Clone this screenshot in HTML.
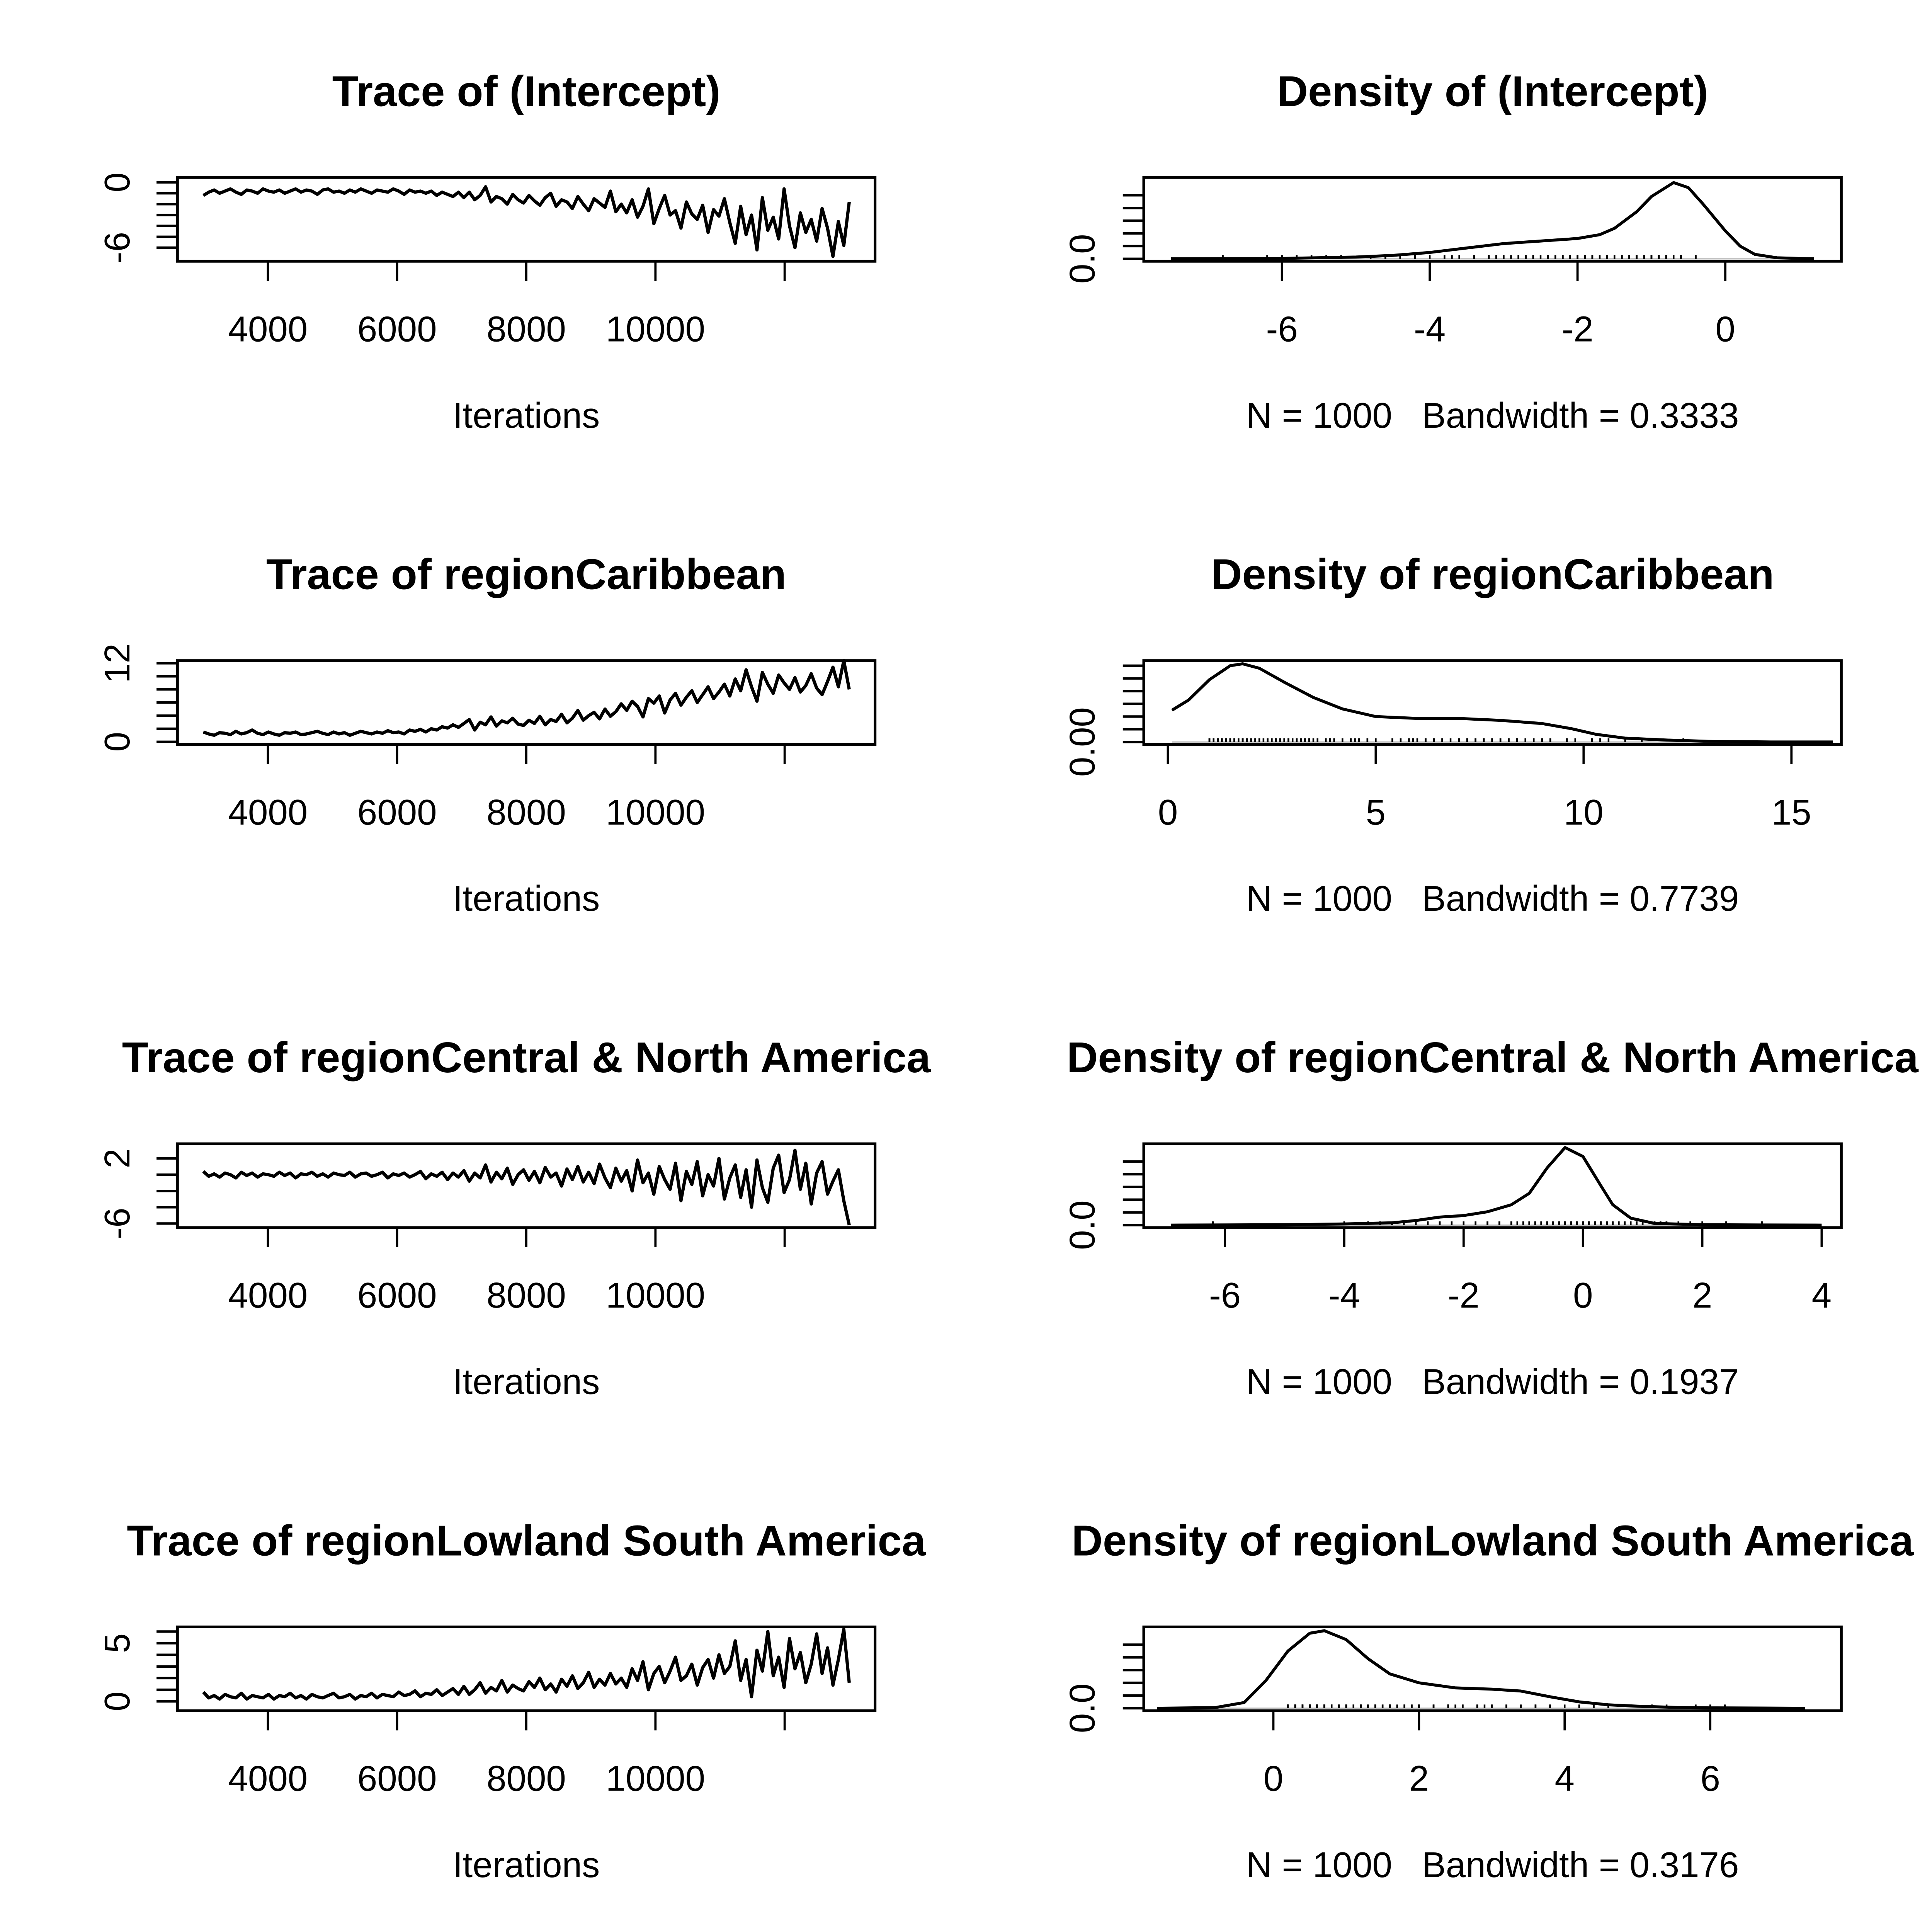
<!DOCTYPE html>
<html><head><meta charset="utf-8"><style>
html,body{margin:0;padding:0;background:#fff;overflow:hidden;width:5314px;height:5314px}
svg{display:block}
text{font-family:"Liberation Sans",Arial,sans-serif;fill:#000;white-space:pre}
</style></head><body>
<svg id="chart" xmlns="http://www.w3.org/2000/svg" width="5314" height="5314" viewBox="0 0 1666 1666"></svg>
<script>
// ---- data ----
const paramNames = ["(Intercept)","regionCaribbean","regionCentral & North America","regionLowland South America"];
const bandwidths = ["0.3333","0.7739","0.1937","0.3176"];
const iterStart = 3000, iterEnd = 13000;
const iterTicks = [4000,6000,8000,10000,12000];
const iterTickLabels = ["4000","6000","8000","10000",""];
const traceIntercept = [-1.2,-0.9,-0.7,-1.0,-0.8,-0.6,-0.9,-1.1,-0.7,-0.8,-1.0,-0.6,-0.8,-0.9,-0.7,-1.0,-0.8,-0.6,-0.9,-0.7,-0.8,-1.1,-0.7,-0.6,-0.9,-0.8,-1.0,-0.7,-0.9,-0.6,-0.8,-1.0,-0.7,-0.8,-0.9,-0.6,-0.8,-1.1,-0.7,-0.9,-0.8,-1.0,-0.8,-1.2,-0.9,-1.1,-1.3,-0.9,
-1.4,-0.9,-1.6,-1.2,-0.4,-1.8,-1.3,-1.5,-2.0,-1.1,-1.6,-1.9,-1.2,-1.7,-2.1,-1.4,-1.0,-2.2,-1.6,-1.8,-2.4,-1.3,-2.0,-2.6,-1.5,-1.9,-2.3,-0.8,-2.7,-2.0,
-2.8,-1.6,-3.2,-2.2,-0.6,-3.8,-2.4,-1.2,-3.0,-2.6,-4.2,-1.8,-2.9,-3.4,-2.1,-4.6,-2.5,-3.1,-1.5,-3.7,
-5.6,-2.2,-4.8,-3.0,-6.2,-1.4,-4.4,-3.2,-5.2,-0.6,-4.0,-6.0,-2.8,-4.6,-3.4,-5.4,-2.4,-4.2,-6.8,-3.6,-5.8,-1.8];
const traceCaribbean = [1.5,1.2,1.0,1.4,1.3,1.1,1.6,1.2,1.4,1.8,1.3,1.1,1.5,1.2,1.0,1.4,1.3,1.5,1.1,1.2,1.4,1.6,1.3,1.1,1.5,1.2,1.4,1.0,1.3,1.6,1.4,1.2,1.5,1.3,1.7,1.4,1.5,1.2,1.8,1.6,1.9,1.5,2.0,1.8,2.3,2.1,2.6,2.2,
2.8,3.4,1.8,3.0,2.6,3.8,2.4,3.2,2.9,3.6,2.7,2.5,3.3,2.8,3.9,2.6,3.4,3.1,4.2,2.9,3.6,4.8,3.3,4.0,4.5,3.5,5.0,3.9,4.6,5.8,
4.8,6.2,5.4,3.8,6.6,5.9,7.0,4.4,6.4,7.4,5.6,6.8,7.8,6.0,7.2,8.4,6.6,7.6,8.8,7.0,
9.6,7.8,11.0,8.4,6.2,10.6,8.8,7.4,10.2,9.0,8.0,9.8,7.6,8.6,10.4,8.2,7.2,9.2,11.4,8.4,12.4,8.0];
const traceCentral = [0.4,-0.2,0.1,-0.3,0.2,0.0,-0.4,0.3,-0.1,0.2,-0.3,0.1,0.0,-0.2,0.3,-0.1,0.2,-0.4,0.1,0.0,0.3,-0.2,0.1,-0.3,0.2,0.0,-0.1,0.3,-0.3,0.1,0.2,-0.2,0.0,0.3,-0.4,0.1,-0.1,0.2,-0.3,0.0,0.4,-0.5,0.1,-0.2,0.3,-0.6,0.2,-0.3,
0.5,-0.8,0.2,-0.4,1.2,-0.9,0.3,-0.5,0.8,-1.2,0.0,0.6,-0.7,0.4,-1.0,0.9,-0.3,0.2,-1.4,0.7,-0.6,1.0,-0.9,0.3,-1.1,1.3,-0.4,-1.6,0.8,-0.8,
0.5,-2.0,1.8,-1.0,0.2,-2.4,1.0,-0.6,-1.8,1.4,-3.2,0.4,-1.2,1.6,-2.6,0.0,-1.4,2.0,-3.0,-0.4,
1.2,-2.8,0.6,-4.0,1.8,-1.6,-3.4,0.8,2.4,-2.2,-0.6,3.0,-1.8,1.4,-3.6,0.2,1.6,-2.4,-0.8,0.6,-3.2,-6.2];
const traceLowland = [0.8,0.3,0.5,0.2,0.6,0.4,0.3,0.7,0.2,0.5,0.4,0.3,0.6,0.2,0.5,0.4,0.7,0.3,0.5,0.2,0.6,0.4,0.3,0.5,0.7,0.3,0.4,0.6,0.2,0.5,0.4,0.7,0.3,0.6,0.5,0.4,0.8,0.5,0.6,0.9,0.4,0.7,0.6,1.0,0.5,0.8,1.1,0.6,
1.3,0.6,1.0,1.6,0.7,1.2,0.9,1.8,0.8,1.4,1.1,0.9,1.7,1.2,2.0,1.0,1.5,0.8,1.9,1.3,2.2,1.1,1.6,2.5,1.2,1.9,1.4,2.4,1.5,2.0,
1.2,2.8,1.8,3.4,1.0,2.4,3.0,1.6,2.6,3.8,1.8,2.2,3.2,1.4,2.9,3.6,2.0,4.0,2.4,3.0,
5.2,1.8,3.6,0.4,4.4,2.6,6.0,2.2,3.8,1.2,5.4,2.8,4.2,1.6,3.2,5.8,2.4,4.6,1.4,3.6,6.2,1.6];
// density curves (x, y)
const densXIntercept = [-7.5,-6,-5,-4.5,-4,-3.5,-3,-2.5,-2,-1.7,-1.5,-1.2,-1,-0.7,-0.5,-0.3,0,0.2,0.4,0.7,1.2];
const densYIntercept = [0,0.003,0.014,0.027,0.05,0.085,0.12,0.14,0.16,0.19,0.24,0.37,0.49,0.6,0.56,0.43,0.22,0.1,0.035,0.008,0];
const densXCaribbean = [0.1,0.5,1,1.5,1.8,2.2,2.8,3.5,4.2,5,6,7,8,9,9.7,10.3,11,12,13,14.5,16];
const densYCaribbean = [0.05,0.066,0.098,0.12,0.123,0.116,0.094,0.07,0.052,0.04,0.037,0.037,0.034,0.029,0.021,0.012,0.006,0.003,0.001,0,0];
const densXCentral = [-6.9,-5,-4,-3.2,-2.8,-2.4,-2,-1.6,-1.2,-0.9,-0.6,-0.3,0,0.3,0.5,0.8,1.2,2,3,4];
const densYCentral = [0,0.003,0.009,0.018,0.036,0.063,0.075,0.105,0.16,0.25,0.45,0.61,0.54,0.31,0.16,0.055,0.013,0.003,0.001,0];
const densXLowland = [-1.6,-0.8,-0.4,-0.1,0.2,0.5,0.7,1,1.3,1.6,2,2.5,3,3.4,3.8,4.2,4.6,5,5.5,6,7.3];
const densYLowland = [0,0.005,0.045,0.22,0.45,0.59,0.61,0.54,0.39,0.27,0.2,0.16,0.15,0.135,0.09,0.05,0.027,0.016,0.007,0.003,0];
// axis ticks
const traceYTicks = [[-6,-5,-4,-3,-2,-1,0],[0,2,4,6,8,10,12],[-6,-4,-2,0,2],[0,1,2,3,4,5,6]];
const traceYLabels = [{"-6":"-6","0":"0"},{"0":"0","12":"12"},{"-6":"-6","2":"2"},{"0":"0","5":"5"}];
const traceYRange = [[-7.25,0.45],[-0.4,12.4],[-6.5,3.8],[-0.8,6.4]];
const densXTicks = [[-6,-4,-2,0],[0,5,10,15],[-6,-4,-2,0,2,4],[0,2,4,6]];
const densXRange = [[-7.87,1.57],[-0.58,16.2],[-7.36,4.33],[-1.78,7.8]];
const densYTicks = [[0,0.1,0.2,0.3,0.4,0.5],[0,0.02,0.04,0.06,0.08,0.1,0.12],[0,0.1,0.2,0.3,0.4,0.5],[0,0.1,0.2,0.3,0.4,0.5]];
const densYMax = [0.64,0.128,0.64,0.64];
const densYLabel = ["0.0","0.00","0.0","0.0"];

const traces = [traceIntercept,traceCaribbean,traceCentral,traceLowland];
const densX = [densXIntercept,densXCaribbean,densXCentral,densXLowland];
const densY = [densYIntercept,densYCaribbean,densYCentral,densYLowland];

const NS = "http://www.w3.org/2000/svg";
const svg = document.getElementById('chart');
function mk(tag, attrs, parent, txt){
  const e = document.createElementNS(NS, tag);
  for (const k in attrs) e.setAttribute(k, attrs[k]);
  if (txt !== undefined) e.textContent = txt;
  (parent||svg).appendChild(e);
  return e;
}
const ROW = 392, TF = 35, LF = 29;
for (let r = 0; r < 4; r++) {
  const top = 144 + ROW*r, bot = 212 + ROW*r;
  // ---------- trace panel ----------
  const gT = mk('g', {});
  
  
  const L = 144, R = 710;
  const xT = v => L + (R-L) * (v - 2600) / (13400 - 2600);
  const yr = traceYRange[r];
  const yT = v => bot - (bot-top) * (v - yr[0]) / (yr[1] - yr[0]);
  const t1 = mk('text', {x:427, y:86+ROW*r, 'text-anchor':'middle', 'font-size':TF, 'font-weight':'bold'}, gT, 'Trace of ' + paramNames[r]);
  
  
  const tr = traces[r];
  const pts = tr.map((v,i) => xT(iterStart + i*(iterEnd-iterStart)/(tr.length-1)).toFixed(2) + ',' + yT(v).toFixed(2)).join(' ');
  const pl = mk('polyline', {points:pts, fill:'none', stroke:'#000', 'stroke-width':2.6, 'stroke-linejoin':'round'}, gT);
  
  
  const bx = mk('rect', {x:L, y:top, width:R-L, height:bot-top, fill:'none', stroke:'#000', 'stroke-width':2.2}, gT);
  
  
  iterTicks.forEach((t,i) => {
    mk('line', {x1:xT(t), x2:xT(t), y1:bot, y2:bot+16, stroke:'#000', 'stroke-width':1.8}, gT);
    if (iterTickLabels[i]) {
      const lb = mk('text', {x:xT(t), y:bot+65, 'text-anchor':'middle', 'font-size':LF}, gT, iterTickLabels[i]);
      
      
    }
  });
  traceYTicks[r].forEach(t => {
    mk('line', {x1:L, x2:L-17, y1:yT(t), y2:yT(t), stroke:'#000', 'stroke-width':2}, gT);
    const lab = traceYLabels[r][String(t)];
    if (lab) {
      const lb = mk('text', {x:0, y:0, 'text-anchor':'middle', 'font-size':LF, transform:`translate(105,${yT(t)}) rotate(-90)`}, gT, lab);
      
      
    }
  });
  const xl = mk('text', {x:427, y:347+ROW*r, 'text-anchor':'middle', 'font-size':LF}, gT, 'Iterations');
  
  

  // ---------- density panel ----------
  const gD = mk('g', {});
  
  
  const DL = 928, DR = 1494;
  const xr = densXRange[r];
  const xD = v => DL + (DR-DL) * (v - xr[0]) / (xr[1] - xr[0]);
  const base = bot - 2;
  const yD = v => base - (base - top) * v / densYMax[r];
  const t2 = mk('text', {x:1211, y:86+ROW*r, 'text-anchor':'middle', 'font-size':TF, 'font-weight':'bold'}, gD, 'Density of ' + paramNames[r]);
  
  
  const rug = mk('g', {}, gD);
  
  
  const dx = densX[r], dy = densY[r];
  mk('line', {x1:xD(dx[0]), x2:xD(dx[dx.length-1]), y1:base, y2:base, stroke:'#bbb', 'stroke-width':1}, rug);
  tr.forEach(v => mk('line', {x1:xD(v), x2:xD(v), y1:base, y2:base-3, stroke:'#000', 'stroke-width':1.4}, rug));
  const dp = dx.map((v,i) => xD(v).toFixed(2) + ',' + yD(dy[i]).toFixed(2)).join(' ');
  const dl = mk('polyline', {points:dp, fill:'none', stroke:'#000', 'stroke-width':2.4, 'stroke-linejoin':'round'}, gD);
  
  
  const db = mk('rect', {x:DL, y:top, width:DR-DL, height:bot-top, fill:'none', stroke:'#000', 'stroke-width':2.2}, gD);
  
  
  densXTicks[r].forEach(t => {
    mk('line', {x1:xD(t), x2:xD(t), y1:bot, y2:bot+16, stroke:'#000', 'stroke-width':1.8}, gD);
    const lb = mk('text', {x:xD(t), y:bot+65, 'text-anchor':'middle', 'font-size':LF}, gD, String(t));
    
    
  });
  densYTicks[r].forEach(t => {
    mk('line', {x1:DL, x2:DL-17, y1:yD(t), y2:yD(t), stroke:'#000', 'stroke-width':2}, gD);
  });
  const yl = mk('text', {x:0, y:0, 'text-anchor':'middle', 'font-size':LF, transform:`translate(888,${base}) rotate(-90)`}, gD, densYLabel[r]);
  
  
  const nb = mk('text', {x:1211, y:347+ROW*r, 'text-anchor':'middle', 'font-size':LF}, gD, 'N = 1000   Bandwidth = ' + bandwidths[r]);
  
  
}
</script>
</body></html>
